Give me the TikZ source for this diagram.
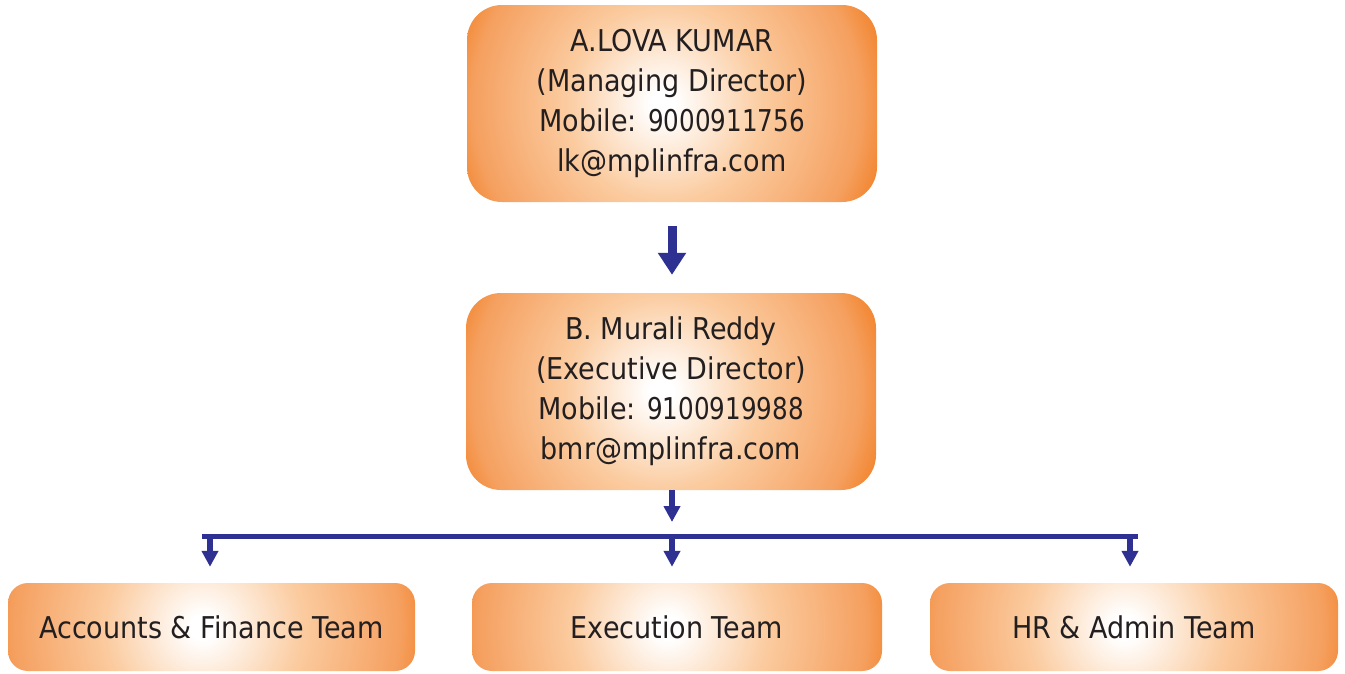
\documentclass[tikz,border=0pt]{standalone}
\usepackage{fontspec}
\setmainfont{DejaVu Sans}[FakeStretch=0.9]
\newfontfamily\narrowdigits{DejaVu Sans}[FakeStretch=0.82]
\usetikzlibrary{arrows.meta}
\definecolor{inkblue}{HTML}{2E3192}
\definecolor{txt}{HTML}{231F20}
\definecolor{glowA}{HTML}{FFFFFF}
\definecolor{glowB}{HTML}{FBCB9F}
\definecolor{glowC}{HTML}{F5A060}
\definecolor{glowD}{HTML}{F28630}
\pgfdeclareradialshading{boxglow}{\pgfpoint{-1.2bp}{0bp}}{color(0bp)=(glowA); color(1.5bp)=(glowA); color(12bp)=(glowB); color(23.5bp)=(glowC); color(27bp)=(glowD); color(50bp)=(glowD)}
\begin{document}
\begin{tikzpicture}[x=1pt,y=-1pt,
  glowbox/.style={rectangle, rounded corners=#1, inner sep=0pt, text=txt, align=center,
    font=\fontsize{30}{40}\selectfont,
    path picture={\shade[shading=boxglow] ([shift={(-206,-206)}]path picture bounding box.center) rectangle ([shift={(206,206)}]path picture bounding box.center);}},
  bigbox/.style={glowbox=35pt, minimum width=410pt, minimum height=197pt},
  teambox/.style={glowbox=20pt, minimum width=408pt, minimum height=88pt},
  bigarrow/.style={draw=inkblue, line width=9pt, -{Triangle[width=27pt,length=22pt]}},
  smallarrow/.style={draw=inkblue, line width=5.5pt, -{Triangle[width=16pt,length=16pt]}},
  barline/.style={draw=inkblue, line width=5pt}]
\useasboundingbox (0,0) rectangle (1345,673);
\node[bigbox] (md) at (672,103.5) {A.LOVA KUMAR\\(Managing Director)\\Mobile: {\narrowdigits 9000911756}\\lk@mplinfra.com};
\node[bigbox] (ed) at (671,391.5) {B. Murali Reddy\\(Executive Director)\\Mobile: {\narrowdigits 9100919988}\\bmr@mplinfra.com};
\node[teambox, minimum width=407pt] (acc) at (211.5,627) {Accounts \& Finance Team};
\node[teambox, minimum width=410pt] (exe) at (677,627) {Execution Team};
\node[teambox] (hr) at (1134,627) {HR \& Admin Team};
\coordinate (j) at (672,536.5);
\coordinate (dl) at (210,536.5);
\coordinate (dr) at (1130,536.5);
\coordinate (bl) at (202,536.5);
\coordinate (br) at (1138,536.5);
\draw[bigarrow, shorten <=24pt, shorten >=18pt] (md.south -| j) -- (ed.north -| j);
\draw[smallarrow, shorten >=14.5pt] (ed.south -| j) -- (j);
\draw[barline] (bl) -- (br);
\draw[smallarrow, shorten >=16pt] (dl) -- (dl |- acc.north);
\draw[smallarrow, shorten >=16pt] (j) -- (j |- exe.north);
\draw[smallarrow, shorten >=16pt] (dr) -- (dr |- hr.north);
\end{tikzpicture}
\end{document}
